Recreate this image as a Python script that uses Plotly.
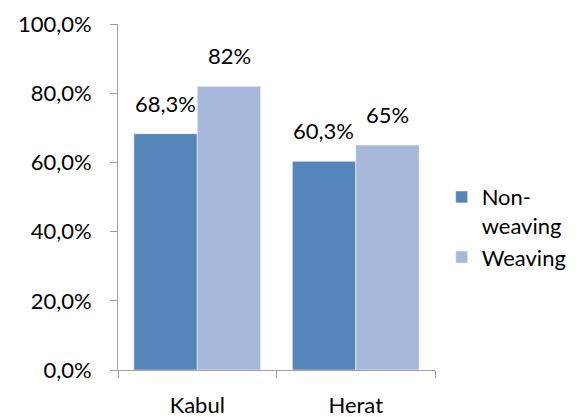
import plotly.graph_objects as go

categories = ["Kabul", "Herat"]
non_weaving = [0.683, 0.603]
weaving = [0.82, 0.65]
non_weaving_labels = ["68,3%", "60,3%"]
weaving_labels = ["82%", "65%"]
y_ticks = [0, 0.2, 0.4, 0.6, 0.8, 1.0]

FONT = "Lato, Open Sans, sans-serif"
FS = 22

fig = go.Figure()
fig.add_trace(go.Bar(
    name="Non-<br>weaving", x=categories, y=non_weaving,
    marker=dict(color="#5586BA", line=dict(color="#FFFFFF", width=0.5)),
))
fig.add_trace(go.Bar(
    name="Weaving", x=categories, y=weaving,
    marker=dict(color="#A6B9DB", line=dict(color="#FFFFFF", width=0.5)),
))

annotations = []
for cat, v, lab in zip(categories, non_weaving, non_weaving_labels):
    annotations.append(dict(x=cat, y=v, text=lab, xref="x", yref="y",
                            xshift=-32, yshift=15, yanchor="bottom",
                            showarrow=False, font=dict(size=FS, family=FONT, color="#000000")))
for cat, v, lab in zip(categories, weaving, weaving_labels):
    annotations.append(dict(x=cat, y=v, text=lab, xref="x", yref="y",
                            xshift=32, yshift=15, yanchor="bottom",
                            showarrow=False, font=dict(size=FS, family=FONT, color="#000000")))

fig.update_layout(
    width=584, height=417,
    margin=dict(l=118, r=146, t=24, b=47),
    paper_bgcolor="white", plot_bgcolor="white",
    separators=",.",
    barmode="group", bargap=0.2, bargroupgap=0,
    font=dict(family=FONT, size=FS, color="#000000"),
    showlegend=True,
    legend=dict(x=1.021, y=0.413, xanchor="left", yanchor="middle",
                font=dict(size=FS, family=FONT), tracegroupgap=0,
                itemwidth=30, valign="top", bgcolor="rgba(0,0,0,0)"),
    annotations=annotations,
)
fig.update_xaxes(
    showline=True, linecolor="#A0A0A0", linewidth=1,
    ticks="outside", ticklen=7, tickcolor="#A0A0A0", tickson="boundaries",
    ticklabelstandoff=16, automargin=False,
    showgrid=False, tickfont=dict(size=FS, family=FONT),
)
fig.update_yaxes(
    range=[0, 1.0], tickvals=y_ticks, tickformat=".1%",
    showline=True, linecolor="#A0A0A0", linewidth=1,
    ticks="outside", ticklen=7, tickcolor="#A0A0A0",
    ticklabelstandoff=14, automargin=False,
    showgrid=False, zeroline=False, tickfont=dict(size=FS, family=FONT),
)

fig.write_html("out.html", config={"displayModeBar": False},
               post_script="document.body.style.margin='0';")
